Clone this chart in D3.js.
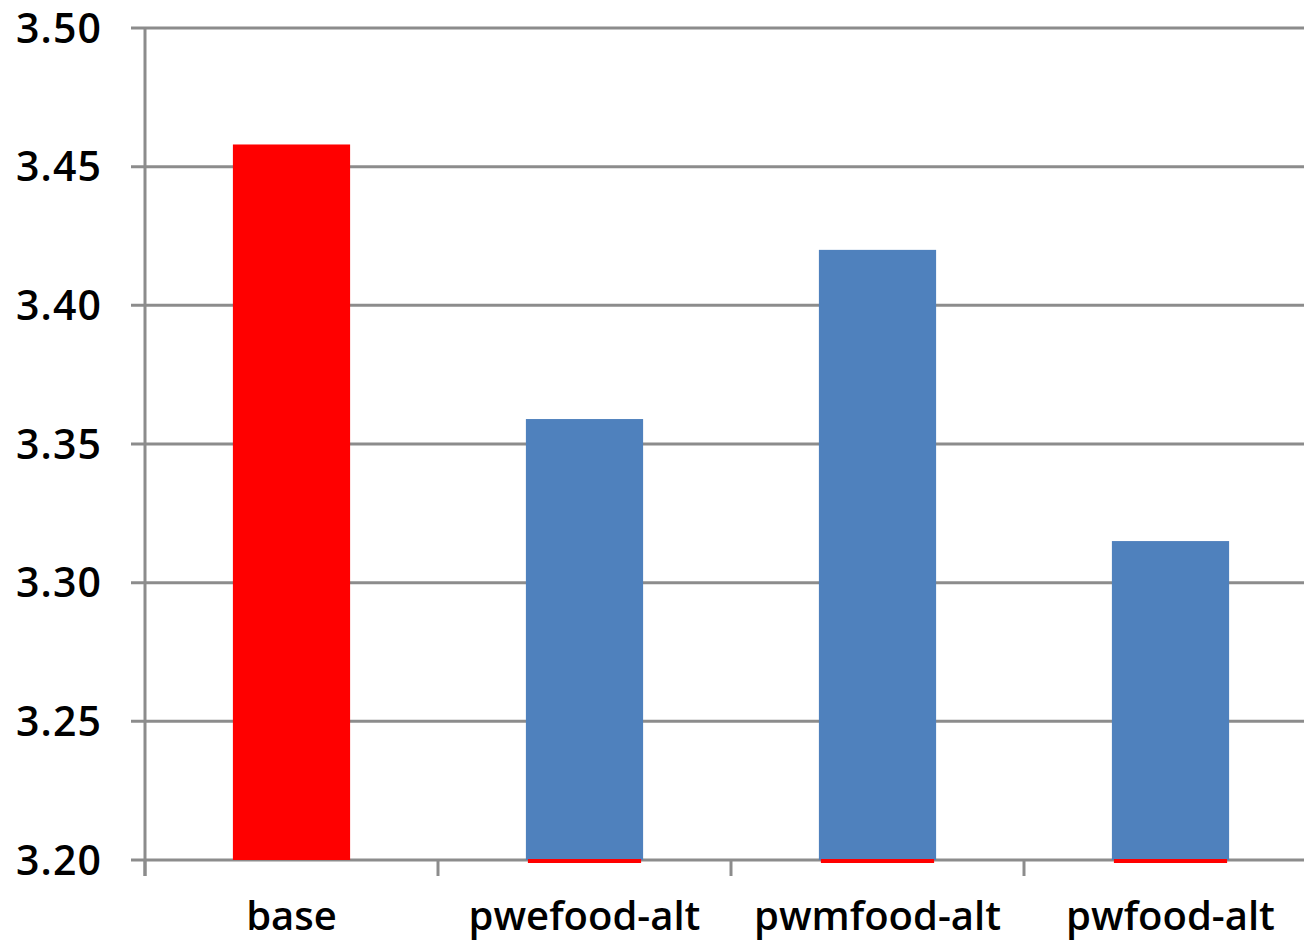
<!DOCTYPE html>
<html>
<head>
<meta charset="utf-8">
<script src="https://cdn.jsdelivr.net/npm/d3@7"></script>
<style>
  body { margin: 0; background: #fff; }
  text { font-family: "Open Sans", "DejaVu Sans", sans-serif; font-weight: 600; fill: #000; }
</style>
</head>
<body>
<div id="chart"></div>
<script>
// Data
const categories = ["base", "pwefood-alt", "pwmfood-alt", "pwfood-alt"];
const values = [3.458, 3.359, 3.420, 3.315];
const barColors = ["#ff0000", "#4f81bd", "#4f81bd", "#4f81bd"];
const yTicks = [3.20, 3.25, 3.30, 3.35, 3.40, 3.45, 3.50];

const W = 1304, H = 944;
const margin = { top: 28, left: 145, bottom: 84 };
const plotH = H - margin.top - margin.bottom;
const bandW = 293;

const svg = d3.select("#chart").append("svg")
    .attr("width", W)
    .attr("height", H);

const x = d3.scaleBand()
    .domain(categories)
    .range([margin.left, margin.left + bandW * categories.length])
    .paddingInner(0.6)
    .paddingOuter(0.3);

const y = d3.scaleLinear()
    .domain([3.20, 3.50])
    .range([margin.top + plotH, margin.top]);

// gridlines
svg.append("g")
    .selectAll("line")
    .data(yTicks)
    .enter().append("line")
    .attr("x1", margin.left - 14)
    .attr("x2", W)
    .attr("y1", d => y(d))
    .attr("y2", d => y(d))
    .attr("stroke", "#8c8c8c")
    .attr("stroke-width", 3);

// y axis line
svg.append("line")
    .attr("x1", margin.left).attr("x2", margin.left)
    .attr("y1", y(3.50)).attr("y2", y(3.20) + 16)
    .attr("stroke", "#8c8c8c")
    .attr("stroke-width", 3);

// category ticks
svg.append("g")
    .selectAll("line")
    .data(d3.range(categories.length + 1))
    .enter().append("line")
    .attr("x1", i => margin.left + i * bandW)
    .attr("x2", i => margin.left + i * bandW)
    .attr("y1", y(3.20))
    .attr("y2", y(3.20) + 16)
    .attr("stroke", "#8c8c8c")
    .attr("stroke-width", 3);

// y labels
svg.append("g")
    .selectAll("text")
    .data(yTicks)
    .enter().append("text")
    .attr("x", 101)
    .attr("y", d => y(d))
    .attr("dy", "0.36em")
    .attr("text-anchor", "end")
    .attr("font-size", 41)
    .attr("textLength", 85)
    .text(d => d3.format(".2f")(d));

// bars
svg.append("g")
    .selectAll("rect")
    .data(values)
    .enter().append("rect")
    .attr("x", (d, i) => x(categories[i]))
    .attr("width", x.bandwidth())
    .attr("y", d => y(d))
    .attr("height", d => y(3.20) - y(d))
    .attr("fill", (d, i) => barColors[i]);

// thin red strip at the base of the blue bars
svg.append("g")
    .selectAll("rect")
    .data(categories.slice(1))
    .enter().append("rect")
    .attr("x", d => x(d) + 2)
    .attr("width", x.bandwidth() - 4)
    .attr("y", y(3.20) - 1)
    .attr("height", 4)
    .attr("fill", "#ff0000");

// x labels
svg.append("g")
    .selectAll("text")
    .data(categories)
    .enter().append("text")
    .attr("x", d => x(d) + x.bandwidth() / 2)
    .attr("y", 930)
    .attr("text-anchor", "middle")
    .attr("font-size", 40)
    .text(d => d);
</script>
</body>
</html>
